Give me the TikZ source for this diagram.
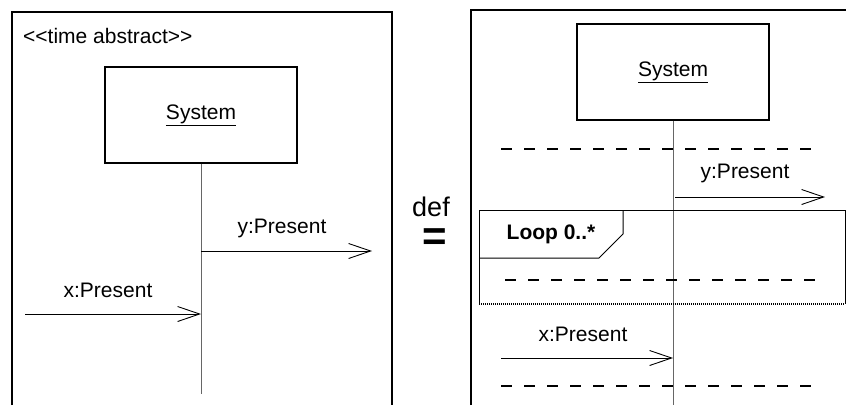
\documentclass[tikz,border=0pt]{standalone}
\usepackage{fontspec}
\setmainfont{Liberation Sans}
\usetikzlibrary{arrows.meta}

\tikzset{
	frame/.style={line width=1.6pt},
	objbox/.style={shape=rectangle, draw, line width=1.2pt, minimum width=192pt, minimum height=96pt, font=\fontsize{21}{25}\selectfont},
	lifeline/.style={line width=1pt, draw=black!60},
	msg/.style={line width=0.9pt, -{Straight Barb[length=22pt, width=15pt, line width=0.9pt]}},
	gapline/.style={line width=2pt, dash pattern=on 11pt off 12pt},
	lbl/.style={inner sep=0pt, font=\fontsize{21}{25}\selectfont},
}

\begin{document}
\begin{tikzpicture}[x=1pt, y=-1pt]
	\useasboundingbox (0,0) rectangle (846,405);
	% left side: time abstract
	\draw[frame] (12,405) -- (12,12) -- (392,12) -- (392,405);
	\node[lbl, anchor=west] (stereo) at (23,36) {{<}{<}time abstract{>}{>}};
	\node[objbox] (sysL) at (201,115) {\underline{System}};
	\coordinate (endL) at (201,394);
	\draw[lifeline] (sysL.south) -- (endL);
	\coordinate (yL0) at (201,251);
	\coordinate (yL1) at (372,251);
	\draw[msg] (yL0) -- (yL1);
	\node[lbl] (yLtxt) at (282,228) {y:Present};
	\coordinate (xL0) at (25,314);
	\coordinate (xL1) at (201,314);
	\draw[msg] (xL0) -- (xL1);
	\node[lbl] (xLtxt) at (108,290) {x:Present};
	% def
	\node[inner sep=0pt, font=\fontsize{27}{30}\selectfont] (deftxt) at (431,207) {def};
	\node[inner sep=0pt, anchor=base, font=\fontsize{42}{42}\selectfont\bfseries, text height=0.55em, text depth=0pt] (eqsign) at (435,250) {=};
	% right side
	\draw[frame] (471,405) -- (471,10) -- (846,10);
	\node[objbox] (sysR) at (673,72) {\underline{System}};
	\coordinate (endR) at (673,405);
	\draw[lifeline] (sysR.south) -- (endR);
	\coordinate (g1a) at (501,149);
	\coordinate (g1b) at (816,149);
	\draw[gapline] (g1a) -- (g1b);
	\coordinate (yR0) at (675,197);
	\coordinate (yR1) at (825,197);
	\draw[msg] (yR0) -- (yR1);
	\node[lbl] (yRtxt) at (745,173) {y:Present};
	% loop fragment
	\draw[line width=1pt] (845,304) -- (845,210) -- (479,210) -- (479,304);
	\draw[line width=1.5pt, dash pattern=on 1pt off 1pt] (479,304) -- (845,304);
	\draw[line width=1pt] (479,258) -- (599,258) -- (623,234) -- (623,210);
	\node[lbl, font=\fontsize{21}{25}\selectfont\bfseries] (looptxt) at (551,234) {Loop 0..*};
	\coordinate (g2a) at (505,280);
	\coordinate (g2b) at (820,280);
	\draw[gapline] (g2a) -- (g2b);
	\coordinate (xR0) at (501,358);
	\coordinate (xR1) at (673,358);
	\draw[msg] (xR0) -- (xR1);
	\node[lbl] (xRtxt) at (583,334) {x:Present};
	\coordinate (g3a) at (501,386);
	\coordinate (g3b) at (817,386);
	\draw[gapline] (g3a) -- (g3b);
\end{tikzpicture}
\end{document}
